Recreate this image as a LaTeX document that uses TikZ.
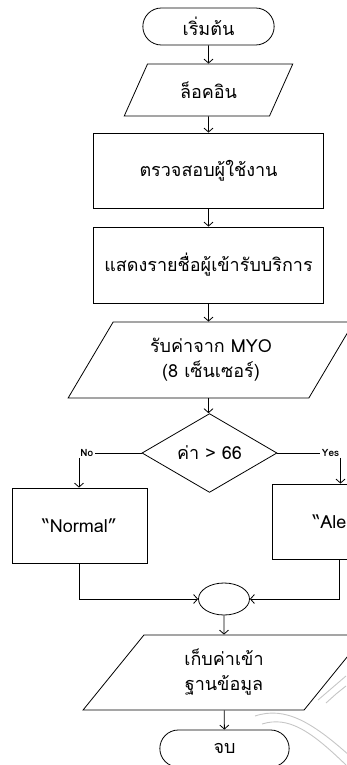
\documentclass[tikz,border=0pt]{standalone}
\usepackage{fontspec}
\newfontfamily\thaifont[Script=Thai]{Loma}
\usetikzlibrary{arrows.meta, shapes.geometric, shapes.misc, positioning}

\begin{document}
\begin{tikzpicture}[
  x=1pt, y=-1pt,
  line width=0.8pt,
  >={Straight Barb[length=4pt,width=9pt]},
  every node/.style={font=\thaifont\fontsize{18}{25}\selectfont, align=center},
  term/.style={rounded rectangle, draw, minimum width=138pt, minimum height=37pt},
  io/.style={trapezium, draw, trapezium stretches=true,
    trapezium left angle=57, trapezium right angle=123, inner sep=0pt},
  proc/.style={rectangle, draw, minimum width=135pt, minimum height=75pt},
  choice/.style={diamond, draw, minimum width=135pt, minimum height=75pt, inner sep=0pt},
  mergenode/.style={ellipse, draw, minimum width=51pt, minimum height=32pt},
  tag/.style={font=\thaifont\bfseries\fontsize{10}{11}\selectfont, inner sep=1pt},
  mark line/.style={draw=gray!45, line width=0.9pt}
]
\useasboundingbox (0,0) rectangle (346,765);
\path[mark line] (255,716) .. controls (285,706) and (312,722) .. (350,756);
\path[mark line] (262,724) .. controls (288,716) and (310,730) .. (346,765);
\path[mark line] (318,700) -- (332,688) -- (346,676);
\path[mark line] (326,703) -- (336,694) -- (346,686);

\node[term] (start) at (208.5,26.5) {เริ่มต้น};
\node[io, minimum width=170pt, minimum height=52pt] (login) at (208.5,90) {ล็อคอิน};
\node[proc, minimum width=230pt] (check) at (208.5,170.5) {ตรวจสอบผู้ใช้งาน};
\node[proc, minimum width=230pt, minimum height=76pt] (list) at (208.5,265) {แสดงรายชื่อผู้เข้ารับบริการ};
\node[io, minimum width=286pt, minimum height=76pt] (myo) at (211,360) {รับค่าจาก MYO\\(8 เซ็นเซอร์)};
\node[choice] (dec) at (209.5,453) {ค่า > 66};
\node[proc] (normal) at (79.5,525.5) {“Normal”};
\node[proc] (alert) at (339.5,521.5) {“Alert”};
\node[tag, anchor=west] (no) at (79,453) {No};
\node[tag, anchor=east] (yes) at (340.5,453) {Yes};
\node[mergenode] (merge) at (224,599) {};
\node[io, minimum width=282pt, minimum height=75pt, fill=white] (db) at (224,672.5) {เก็บค่าเข้า\\ฐานข้อมูล};
\node[term, minimum width=136pt, fill=white] (end) at (224.5,748.5) {จบ};

\draw[->] (start) -- (login);
\draw[->] (login) -- (check);
\draw[->] (check) -- (list);
\draw[->] (list.south) -- (list.south |- myo.north);
\draw[->] (myo.south -| list.south) -- (dec.north -| list.south);
\draw (dec.west) -- (no.east);
\draw (dec.east) -- (yes.west);
\draw[->] (no.south west) -- (no.south west |- normal.north);
\draw[->] (yes.south east) -- (yes.south east |- alert.north);
\draw[->] (normal.south) |- (merge.west);
\draw[->] (alert.south) |- (merge.east);
\draw[->] (merge) -- (db);
\draw[->] (db) -- (end);
\end{tikzpicture}
\end{document}
